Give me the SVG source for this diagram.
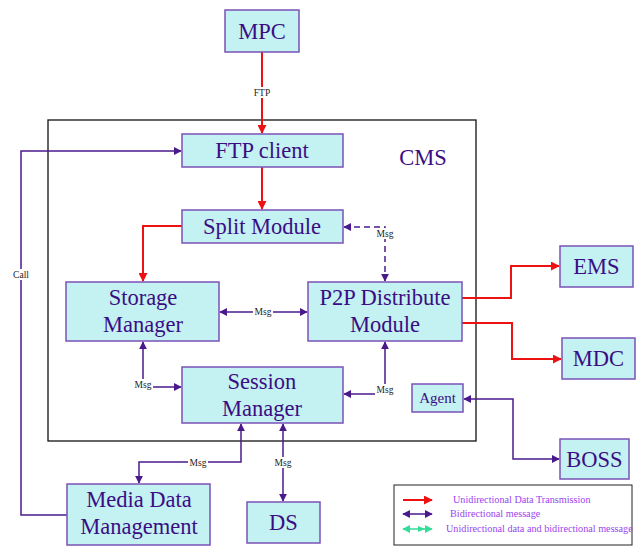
<svg xmlns="http://www.w3.org/2000/svg" width="640" height="546" viewBox="0 0 640 546">
  <defs>
    <marker id="ar" viewBox="0 0 10 10" refX="9" refY="5" markerWidth="9" markerHeight="9" markerUnits="userSpaceOnUse" orient="auto-start-reverse">
      <path d="M0,0 L10,5 L0,10 z" fill="#ee1111"/>
    </marker>
    <marker id="ap" viewBox="0 0 10 10" refX="9" refY="5" markerWidth="8" markerHeight="8" markerUnits="userSpaceOnUse" orient="auto-start-reverse">
      <path d="M0,0 L10,5 L0,10 z" fill="#4a1a8c"/>
    </marker>
    <marker id="ag" viewBox="0 0 10 10" refX="9" refY="5" markerWidth="8" markerHeight="8" markerUnits="userSpaceOnUse" orient="auto-start-reverse">
      <path d="M0,0 L10,5 L0,10 z" fill="#33dd99"/>
    </marker>
    <style>
      .box { fill: #c4f1f1; stroke: #7b52b8; stroke-width: 1.5; }
      .lbl { font-family: "Liberation Serif", "DejaVu Serif", serif; fill: #3a0d85; text-anchor: middle; font-size: 22.5px; }
      .sm { font-size: 15px; }
      .red { fill: none; stroke: #ee1111; stroke-width: 2; }
      .pur { fill: none; stroke: #4a1a8c; stroke-width: 1.5; }
      .msg { font-family: "Liberation Serif", "DejaVu Serif", serif; font-size: 9.5px; fill: #222; text-anchor: middle; }
      .mbg { fill: #ffffff; }
      .leg { font-family: "Liberation Serif", "DejaVu Serif", serif; font-size: 10.2px; fill: #9a44ee; }
    </style>
  </defs>
  <rect width="640" height="546" fill="#ffffff"/>

  <!-- CMS container -->
  <g id="cms">
    <rect x="48" y="120" width="428" height="321" fill="none" stroke="#111" stroke-width="1.3"/>
    <text x="423" y="165" class="lbl">CMS</text>
  </g>

  <!-- connectors -->
  <g id="connectors">
    <!-- MPC -> FTP client -->
    <path class="red" d="M262,52 V133" marker-end="url(#ar)"/>
    <rect class="mbg" x="252" y="87" width="20" height="11"/>
    <text x="262" y="96" class="msg">FTP</text>
    <!-- FTP client -> Split Module -->
    <path class="red" d="M262,167 V209" marker-end="url(#ar)"/>
    <!-- Split Module -> Storage Manager -->
    <path class="red" d="M182,226 H143 V281" marker-end="url(#ar)"/>
    <!-- P2P -> EMS / MDC -->
    <path class="red" d="M462,298 H511 V266 H559" marker-end="url(#ar)"/>
    <path class="red" d="M462,323 H512 V359 H561" marker-end="url(#ar)"/>

    <!-- Call: Media Data Management -> FTP client -->
    <path class="pur" d="M67,515 H21 V151 H181" marker-end="url(#ap)"/>
    <rect class="mbg" x="12" y="269" width="18" height="11"/>
    <text x="21" y="278" class="msg">Call</text>

    <!-- Split Module <-> P2P (dashed) -->
    <path class="pur" d="M344,227 H385 V281" stroke-dasharray="6,4" stroke-width="2" marker-start="url(#ap)" marker-end="url(#ap)"/>
    <rect class="mbg" x="375" y="228" width="20" height="11"/>
    <text x="385" y="237" class="msg">Msg</text>

    <!-- Storage <-> P2P -->
    <path class="pur" d="M220,312 H307" marker-start="url(#ap)" marker-end="url(#ap)"/>
    <rect class="mbg" x="253" y="307" width="20" height="11"/>
    <text x="263" y="315" class="msg">Msg</text>

    <!-- Storage <-> Session -->
    <path class="pur" d="M143,342 V387 H181" marker-start="url(#ap)" marker-end="url(#ap)"/>
    <rect class="mbg" x="133" y="379" width="20" height="11"/>
    <text x="143" y="388" class="msg">Msg</text>

    <!-- P2P <-> Session -->
    <path class="pur" d="M385,342 V394 H344" marker-start="url(#ap)" marker-end="url(#ap)"/>
    <rect class="mbg" x="375" y="384" width="20" height="11"/>
    <text x="385" y="393" class="msg">Msg</text>

    <!-- Agent <-> BOSS -->
    <path class="pur" d="M464,399 H513 V459 H559" marker-start="url(#ap)" marker-end="url(#ap)"/>

    <!-- Session <-> Media Data Management -->
    <path class="pur" d="M241,424 V462 H139 V483" marker-start="url(#ap)" marker-end="url(#ap)"/>
    <rect class="mbg" x="188" y="457" width="20" height="11"/>
    <text x="198" y="466" class="msg">Msg</text>

    <!-- Session <-> DS -->
    <path class="pur" d="M283,424 V501" marker-start="url(#ap)" marker-end="url(#ap)"/>
    <rect class="mbg" x="273" y="457" width="20" height="11"/>
    <text x="283" y="466" class="msg">Msg</text>
  </g>

  <!-- nodes -->
  <g id="mpc">
    <rect class="box" x="225" y="10" width="74" height="42"/>
    <text x="262" y="39" class="lbl">MPC</text>
  </g>
  <g id="ftp-client">
    <rect class="box" x="182" y="134" width="161" height="33"/>
    <text x="262" y="158" class="lbl">FTP client</text>
  </g>
  <g id="split-module">
    <rect class="box" x="182" y="210" width="161" height="33"/>
    <text x="262" y="234" class="lbl">Split Module</text>
  </g>
  <g id="storage-manager">
    <rect class="box" x="66" y="282" width="153" height="59"/>
    <text x="143" y="305" class="lbl">Storage</text>
    <text x="143" y="332" class="lbl">Manager</text>
  </g>
  <g id="p2p-distribute">
    <rect class="box" x="308" y="282" width="154" height="59"/>
    <text x="385" y="305" class="lbl">P2P Distribute</text>
    <text x="385" y="332" class="lbl">Module</text>
  </g>
  <g id="session-manager">
    <rect class="box" x="182" y="367" width="161" height="56"/>
    <text x="262" y="389" class="lbl">Session</text>
    <text x="262" y="416" class="lbl">Manager</text>
  </g>
  <g id="agent">
    <rect class="box" x="412" y="384" width="51" height="28"/>
    <text x="437.5" y="403" class="lbl sm">Agent</text>
  </g>
  <g id="ems">
    <rect class="box" x="560" y="246" width="73" height="41"/>
    <text x="596.5" y="274" class="lbl">EMS</text>
  </g>
  <g id="mdc">
    <rect class="box" x="562" y="338" width="73" height="41"/>
    <text x="598.5" y="366" class="lbl">MDC</text>
  </g>
  <g id="boss">
    <rect class="box" x="560" y="439" width="69" height="40"/>
    <text x="594.5" y="467" class="lbl">BOSS</text>
  </g>
  <g id="media-data-management">
    <rect class="box" x="67" y="484" width="143" height="61"/>
    <text x="139" y="507" class="lbl">Media Data</text>
    <text x="139" y="534" class="lbl">Management</text>
  </g>
  <g id="ds">
    <rect class="box" x="247" y="502" width="73" height="41"/>
    <text x="283.5" y="530" class="lbl">DS</text>
  </g>

  <!-- legend -->
  <g id="legend">
    <rect x="394" y="485" width="238" height="60" fill="#fff" stroke="#222" stroke-width="1"/>
    <path class="red" d="M403,500 H432" marker-end="url(#ar)"/>
    <text x="453" y="503" class="leg">Unidirectional Data Transmission</text>
    <path class="pur" d="M403,514 H432" marker-start="url(#ap)" marker-end="url(#ap)"/>
    <text x="450" y="517" class="leg">Bidirectional message</text>
    <path d="M403,529 H432" fill="none" stroke="#33dd99" stroke-width="1.5" marker-start="url(#ag)" marker-end="url(#ag)"/>
    <path d="M418,526 L425,529 L418,532 z" fill="#33dd99"/>
    <text x="446" y="532" class="leg">Unidirectional data and bidirectional message</text>
  </g>
</svg>
